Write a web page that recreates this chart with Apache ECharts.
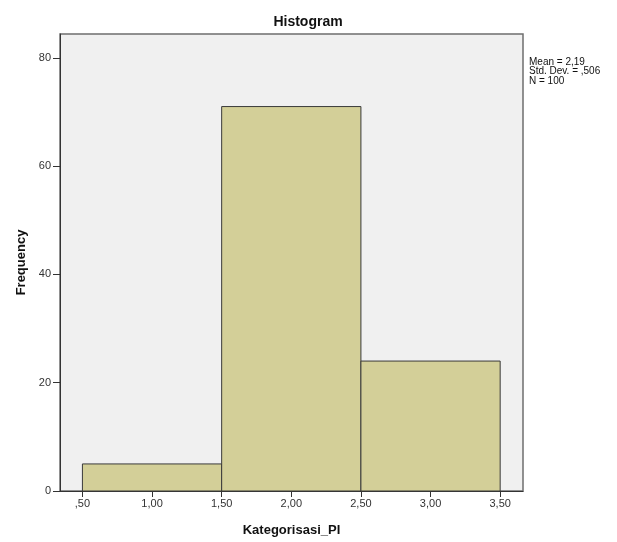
<!DOCTYPE html>
<html>
<head>
<meta charset="utf-8">
<script src="https://cdn.jsdelivr.net/npm/echarts@6/dist/echarts.min.js"></script>
<style>
  html, body { margin: 0; padding: 0; background: #fff; }
  #histo { width: 617px; height: 542px; }
</style>
</head>
<body>
<div id="histo"></div>
<script>
var histo = echarts.init(document.getElementById("histo"));

// bins of Kategorisasi_PI and their counts
let binStart = [0.5, 1.5, 2.5];
let binEnd = [1.5, 2.5, 3.5];
let freq = [5, 71, 24];

let xTicks = [0.5, 1.0, 1.5, 2.0, 2.5, 3.0, 3.5];
let yTicks = [0, 20, 40, 60, 80];
let statsLines = ["Mean = 2,19", "Std. Dev. = ,506", "N = 100"];

function fmtX(v) {
  // SPSS style: comma decimals, no leading zero
  let s = v.toFixed(2).replace(".", ",");
  if (s.indexOf("0,") === 0) s = s.substring(1);
  return s;
}

let barData = [];
for (let i = 0; i < freq.length; i++) {
  barData.push([binStart[i], binEnd[i], freq[i]]);
}

let fontFam = "'Liberation Sans', Arial, sans-serif";

histo.setOption({
  animation: false,
  title: {
    text: "Histogram",
    left: 303,
    textAlign: "center",
    top: 10,
    textStyle: { fontFamily: fontFam, fontSize: 14, fontWeight: "bold", color: "#111" }
  },
  grid: {
    left: 60, right: 94, top: 34, bottom: 50,
    show: true,
    backgroundColor: "#f0f0f0",
    borderColor: "#6e6e6e",
    borderWidth: 1.5
  },
  xAxis: {
    type: "value",
    min: 0.339,
    max: 3.664,
    name: "Kategorisasi_PI",
    nameLocation: "middle",
    nameGap: 33,
    nameTextStyle: { fontFamily: fontFam, fontSize: 13, fontWeight: "bold", color: "#111" },
    splitLine: { show: false },
    axisLine: { show: true, onZero: false, lineStyle: { color: "#333", width: 1 } },
    axisTick: { show: true, length: 6, customValues: xTicks, lineStyle: { color: "#333" } },
    axisLabel: {
      customValues: xTicks,
      formatter: fmtX,
      fontFamily: fontFam, fontSize: 11, color: "#333", margin: 7
    }
  },
  yAxis: {
    type: "value",
    min: 0,
    max: 84.4,
    name: "Frequency",
    nameLocation: "middle",
    nameGap: 30,
    nameTextStyle: { fontFamily: fontFam, fontSize: 13, fontWeight: "bold", color: "#111" },
    splitLine: { show: false },
    axisLine: { show: true, lineStyle: { color: "#333", width: 1 } },
    axisTick: { show: true, length: 7, customValues: yTicks, lineStyle: { color: "#333" } },
    axisLabel: {
      customValues: yTicks,
      fontFamily: fontFam, fontSize: 11, color: "#333", margin: 9
    }
  },
  graphic: [{
    type: "text",
    left: 529,
    top: 57,
    style: {
      text: statsLines.join("\n"),
      font: "10px " + fontFam,
      lineHeight: 9.5,
      fill: "#111"
    }
  }],
  series: [{
    type: "custom",
    data: barData,
    renderItem: function (params, api) {
      let p0 = api.coord([api.value(0), api.value(2)]);
      let p1 = api.coord([api.value(1), 0]);
      return {
        type: "rect",
        shape: { x: p0[0], y: p0[1], width: p1[0] - p0[0], height: p1[1] - p0[1] },
        style: { fill: "#d3cf98", stroke: "#3a3a3a", lineWidth: 1 }
      };
    }
  }]
});
</script>
</body>
</html>
